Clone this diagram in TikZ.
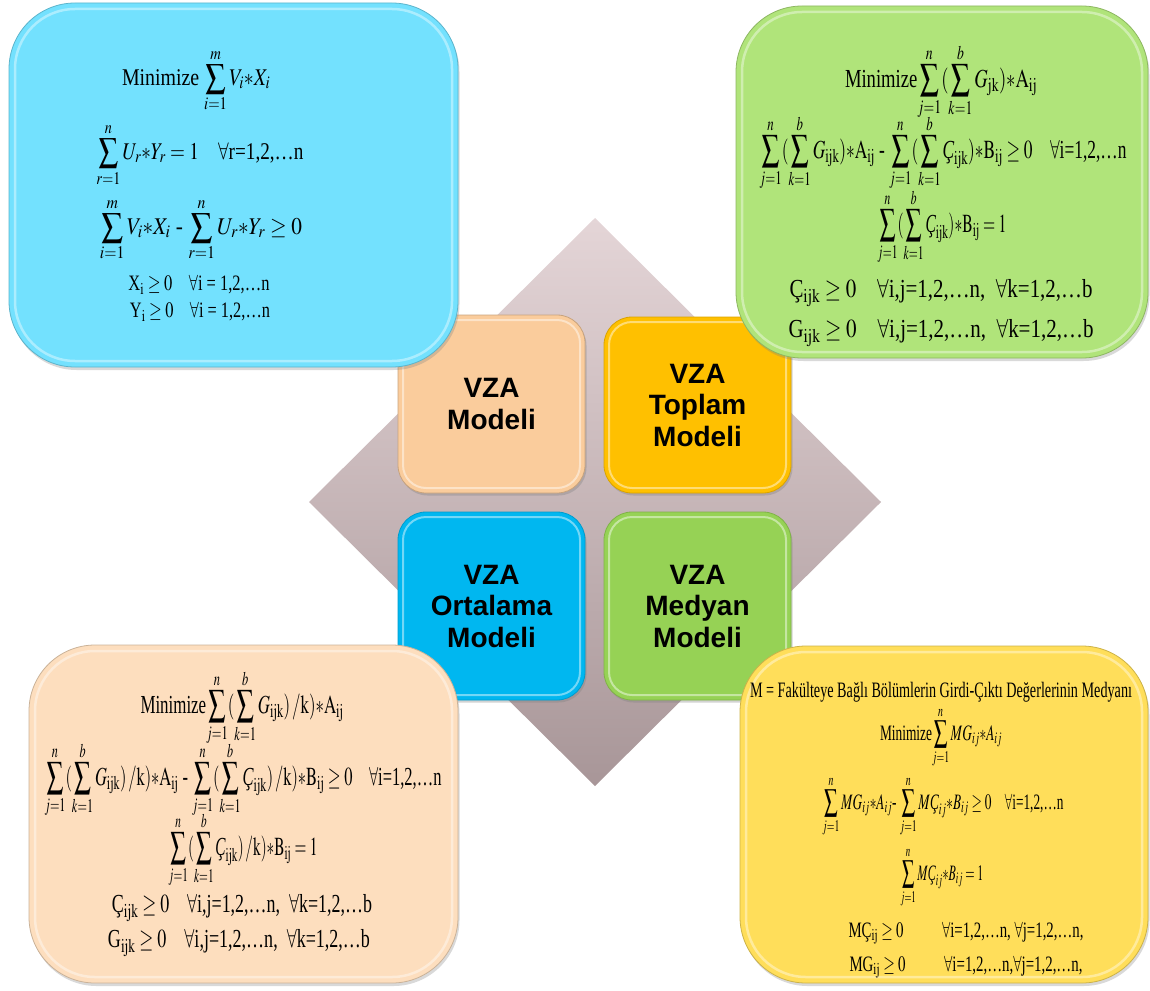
\documentclass[tikz,border=0pt]{standalone}
\usepackage{mathptmx}
\usepackage{fontspec}
\setmainfont{Liberation Serif}
\newfontfamily\boxfont{Liberation Sans}
\usepackage{graphicx}
\usetikzlibrary{shadows}

% renk tanimlari
\definecolor{diaTop}{RGB}{228,213,215}
\definecolor{diaBot}{RGB}{168,150,152}
\definecolor{tlBlue}{RGB}{115,225,254}
\definecolor{trGreen}{RGB}{176,228,122}
\definecolor{blPeach}{RGB}{253,222,190}
\definecolor{brYellow}{RGB}{255,222,90}
\definecolor{cPeach}{RGB}{250,204,156}
\definecolor{cGold}{RGB}{255,192,0}
\definecolor{cBlue}{RGB}{0,183,240}
\definecolor{cGreen}{RGB}{150,210,85}

% satiri verilen genislige sikistir
\newcommand{\satir}[2]{\resizebox{#1pt}{\height}{#2}}
\newcommand{\Cc}{\mbox{\itshape Ç}}

\begin{document}
\begin{tikzpicture}[x=1pt, y=-1pt,
    kutu/.style={rectangle, rounded corners=28pt, line width=0.8pt,
        drop shadow={opacity=0.35, shadow xshift=1.5pt, shadow yshift=-2.5pt},
        font=\boxfont\bfseries\fontsize{28}{31.5}\selectfont, align=center,
        minimum width=187pt,
        path picture={\draw[white, opacity=0.45, line width=2pt, rounded corners=23pt]
            ([shift={(5pt,5pt)}]path picture bounding box.south west) rectangle
            ([shift={(-5pt,-5pt)}]path picture bounding box.north east);}},
    buyuk/.style={rectangle, rounded corners=66pt, line width=0.8pt,
        drop shadow={opacity=0.3, shadow xshift=1.5pt, shadow yshift=-3pt},
        path picture={\draw[white, opacity=0.4, line width=2.5pt, rounded corners=60pt]
            ([shift={(6pt,6pt)}]path picture bounding box.south west) rectangle
            ([shift={(-6pt,-6pt)}]path picture bounding box.north east);}},
    formA/.style={inner sep=0pt, font=\fontsize{24}{28}\selectfont},
    formB/.style={inner sep=0pt, font=\fontsize{26}{30}\selectfont},
    formC/.style={inner sep=0pt, font=\fontsize{22}{26}\selectfont}]
    \useasboundingbox (0,0) rectangle (1150,990);

    % arka plandaki baklava dilimi
    \shade[top color=diaTop, bottom color=diaBot]
        (595,218) -- (881,502) -- (595,786) -- (309,502) -- cycle;

    % ortadaki dort model kutusu
    \node[kutu, fill=cPeach, draw=cPeach!80!black, minimum height=178pt]
        (vza) at (491.5,404) {VZA\\Modeli};
    \node[kutu, fill=cGold, draw=cGold!85!black, minimum height=176pt]
        (toplam) at (697.5,405) {VZA\\Toplam\\Modeli};
    \node[kutu, fill=cBlue, draw=cBlue!85!black, minimum height=188pt]
        (ortalama) at (491.5,606) {VZA\\Ortalama\\Modeli};
    \node[kutu, fill=cGreen, draw=cGreen!85!black, minimum height=188pt]
        (medyan) at (697.5,606) {VZA\\Medyan\\Modeli};

    % kose kutulari
    \node[buyuk, fill=tlBlue, draw=tlBlue!80!black, minimum width=449pt,
        minimum height=364pt] (vzakutu) at (233.5,185) {};
    \node[buyuk, fill=trGreen, draw=trGreen!80!black, minimum width=412pt,
        minimum height=352pt] (toplamkutu) at (942,182) {};
    \node[buyuk, fill=blPeach, draw=blPeach!80!black, minimum width=429pt,
        minimum height=338pt] (ortkutu) at (243.5,814) {};
    \node[buyuk, fill=brYellow, draw=brYellow!80!black, minimum width=408pt,
        minimum height=337pt] (medkutu) at (944,814.5) {};

    % VZA modeli
    \node[formA] (v1) at (196,81) {\satir{148}{Minimize\ $\displaystyle\sum_{i=1}^{m}V_i{*}X_i$}};
    \node[formA] (v2) at (200,155) {\satir{207}{$\displaystyle\sum_{r=1}^{n}U_r{*}Y_r=1$\quad $\forall$r=1,2,…n}};
    \node[formA] (v3) at (201,230) {\satir{202}{$\displaystyle\sum_{i=1}^{m}V_i{*}X_i$ - $\displaystyle\sum_{r=1}^{n}U_r{*}Y_r\geq 0$}};
    \node[formC] (v4) at (199,285) {\satir{141}{X$_{\mathrm{i}}\geq 0$\quad $\forall$i = 1,2,…n}};
    \node[formC] (v5) at (200,312) {\satir{140}{Y$_{\mathrm{i}}\geq 0$\quad $\forall$i = 1,2,…n}};

    % VZA toplam modeli
    \node[formB] (t1) at (941,82) {\satir{192}{Minimize$\displaystyle\sum_{j=1}^{n}(\sum_{k=1}^{b}G_{\mathrm{jk}})\mathrm{{*}A_{ij}}$}};
    \node[formB] (t2) at (943,153) {\satir{367}{$\displaystyle\sum_{j=1}^{n}(\sum_{k=1}^{b}G_{\mathrm{ijk}})\mathrm{{*}A_{ij}}$ - $\displaystyle\sum_{j=1}^{n}(\sum_{k=1}^{b}\Cc_{\mathrm{ijk}})\mathrm{{*}B_{ij}}\geq 0$\quad $\forall$i=1,2,…n}};
    \node[formB] (t3) at (942,227) {\satir{129}{$\displaystyle\sum_{j=1}^{n}(\sum_{k=1}^{b}\Cc_{\mathrm{ijk}})\mathrm{{*}B_{ij}}=1$}};
    \node[formB] (t4) at (941,293) {\satir{303}{Ç$_{\mathrm{ijk}}\geq 0$\quad $\forall$i,j=1,2,…n,\enspace $\forall$k=1,2,…b}};
    \node[formB] (t5) at (941,333) {\satir{305}{G$_{\mathrm{ijk}}\geq 0$\quad $\forall$i,j=1,2,…n,\enspace $\forall$k=1,2,…b}};

    % VZA ortalama modeli
    \node[formB] (o1) at (242,708) {\satir{203}{Minimize$\displaystyle\sum_{j=1}^{n}(\sum_{k=1}^{b}G_{\mathrm{ijk}})\,/\mathrm{k}){*}\mathrm{A_{ij}}$}};
    \node[formB] (o2) at (243,780) {\satir{397}{$\displaystyle\sum_{j=1}^{n}(\sum_{k=1}^{b}G_{\mathrm{ijk}})\,/\mathrm{k}){*}\mathrm{A_{ij}}$ - $\displaystyle\sum_{j=1}^{n}(\sum_{k=1}^{b}\Cc_{\mathrm{ijk}})\,/\mathrm{k}){*}\mathrm{B_{ij}}\geq 0$\quad $\forall$i=1,2,…n}};
    \node[formB] (o3) at (243,850) {\satir{149}{$\displaystyle\sum_{j=1}^{n}(\sum_{k=1}^{b}\Cc_{\mathrm{ijk}})\,/\mathrm{k}){*}\mathrm{B_{ij}}=1$}};
    \node[formB] (o4) at (242,908) {\satir{260}{Ç$_{\mathrm{ijk}}\geq 0$\quad $\forall$i,j=1,2,…n,\enspace $\forall$k=1,2,…b}};
    \node[formB] (o5) at (239,943) {\satir{262}{G$_{\mathrm{ijk}}\geq 0$\quad $\forall$i,j=1,2,…n,\enspace $\forall$k=1,2,…b}};

    % VZA medyan modeli
    \node[formC] (m0) at (941,692) {\satir{382}{M = Fakülteye Bağlı Bölümlerin Girdi-Çıktı Değerlerinin Medyanı}};
    \node[formC] (m1) at (941,738) {\satir{122}{Minimize$\displaystyle\sum_{j=1}^{n}MG_{ij}{*}A_{ij}$}};
    \node[formC] (m2) at (943,807) {\satir{241}{$\displaystyle\sum_{j=1}^{n}MG_{ij}{*}A_{ij}$- $\displaystyle\sum_{j=1}^{n}M\Cc_{ij}{*}B_{ij}\geq 0$\quad $\forall$i=1,2,…n}};
    \node[formC] (m3) at (942,878) {\satir{83}{$\displaystyle\sum_{j=1}^{n}M\Cc_{ij}{*}B_{ij}=1$}};
    \node[formC] (m4) at (966,933) {\satir{235}{MÇ$_{\mathrm{ij}}\geq 0$\hspace{2.6em}$\forall$i=1,2,…n, $\forall$j=1,2,…n,}};
    \node[formC] (m5) at (966,967) {\satir{233}{MG$_{\mathrm{ij}}\geq 0$\hspace{2.6em}$\forall$i=1,2,…n,$\forall$j=1,2,…n,}};
\end{tikzpicture}
\end{document}
